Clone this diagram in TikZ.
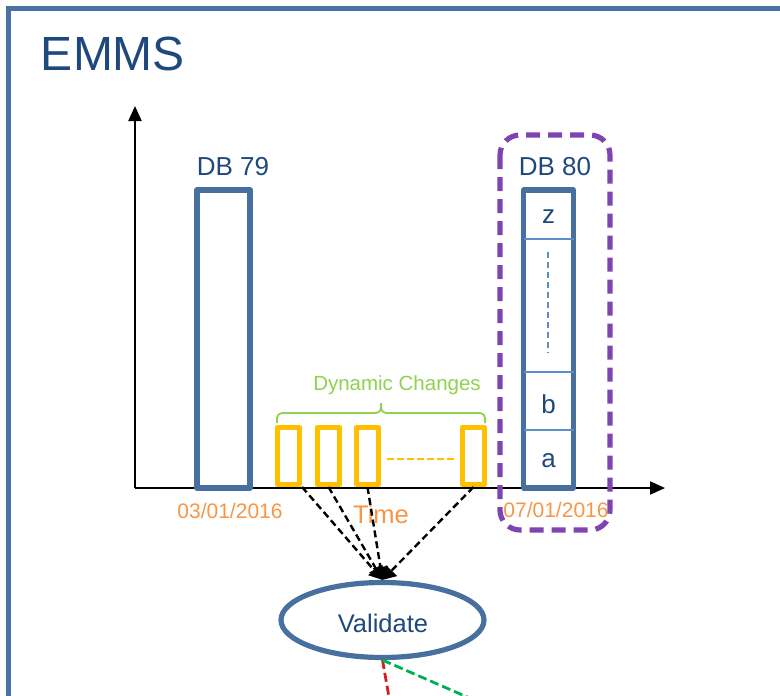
\documentclass[tikz,border=0pt]{standalone}
\usepackage{fontspec}
\setmainfont{Liberation Sans}
\usetikzlibrary{arrows.meta,shapes.geometric}
\definecolor{frameblue}{HTML}{4A72A0}
\definecolor{boxblue}{HTML}{48709E}
\definecolor{textblue}{HTML}{1F497D}
\definecolor{divblue}{HTML}{5B8FC9}
\definecolor{dateorange}{HTML}{F79646}
\definecolor{dyngreen}{HTML}{92D050}
\definecolor{chyellow}{HTML}{FFC000}
\definecolor{purp}{HTML}{7E44B0}
\definecolor{lgreen}{HTML}{00B050}
\definecolor{lred}{HTML}{D42020}
\tikzset{
  dbbox/.style={draw=boxblue,line width=5.2pt,line join=round},
  chbox/.style={draw=chyellow,line width=5.2pt,line join=round},
  lbl/.style={text=textblue,anchor=base,inner sep=0pt},
  datelbl/.style={text=dateorange,anchor=base,inner sep=0pt,font=\fontsize{21}{24}\selectfont},
  darr/.style={draw=black,line width=2.4pt,dash pattern=on 7pt off 4pt,-{Triangle[length=13pt,width=15pt]}},
  ax/.style={draw=black,line width=2.2pt,-{Triangle[length=15pt,width=13pt]}}
}
\begin{document}
\begin{tikzpicture}[x=1pt,y=-1pt]
\useasboundingbox (0,0) rectangle (780,696);
\clip (0,0) rectangle (780,696);
% frame
\draw[frameblue,line width=5.2pt] (8.5,800) -- (8.5,8.5) -- (900,8.5);
\node[lbl,text=textblue,font=\fontsize{48}{52}\selectfont] (title) at (113,70) {EMMS};
% axes
\coordinate (origin) at (135,488);
\coordinate (yend) at (135,106);
\coordinate (xend) at (665,488);
\draw[ax] (origin) -- (yend);
\draw[ax] (origin) -- (xend);
% DB 79
\draw[dbbox] (197,190) rectangle (250,488);
\node[lbl,font=\fontsize{26}{30}\selectfont] (db79) at (233,175) {DB 79};
% DB 80
\draw[purp,line width=5.2pt,dash pattern=on 14pt off 8pt,rounded corners=20pt] (500,135) rectangle (610,530);
\draw[dbbox] (523.5,190) rectangle (573.5,488);
\draw[divblue,line width=1.8pt] (523.5,239) -- (573.5,239) (523.5,372) -- (573.5,372) (523.5,430) -- (573.5,430);
\draw[divblue,line width=2.2pt,dash pattern=on 6pt off 4pt] (548,252) -- (548,353);
\node[lbl,font=\fontsize{26}{30}\selectfont] (db80) at (555,175) {DB 80};
\node[lbl,font=\fontsize{26}{30}\selectfont] (z) at (548.5,223) {z};
\node[lbl,font=\fontsize{26}{30}\selectfont] (b) at (548.5,413) {b};
\node[lbl,font=\fontsize{26}{30}\selectfont] (a) at (548.5,467) {a};
% changes
\node[chbox,minimum width=22pt,minimum height=57pt,inner sep=0pt,anchor=south] (c1) at (288.5,487) {};
\node[chbox,minimum width=22pt,minimum height=57pt,inner sep=0pt,anchor=south] (c2) at (328.5,487) {};
\node[chbox,minimum width=22pt,minimum height=57pt,inner sep=0pt,anchor=south] (c3) at (367.5,487) {};
\node[chbox,minimum width=22pt,minimum height=57pt,inner sep=0pt,anchor=south] (c4) at (473.5,487) {};
\draw[chyellow,line width=2.6pt,dash pattern=on 7pt off 3pt] (387,459) -- (455,459);
% brace
\draw[dyngreen,line width=1.8pt,rounded corners=5pt] (277,423) -- (277,413) -- (381,413) -- (381,403);
\draw[dyngreen,line width=1.8pt,rounded corners=5pt] (381,403) -- (381,413) -- (485,413) -- (485,423);
\node[lbl,text=dyngreen,font=\fontsize{20.5}{24}\selectfont] (dyn) at (397,390) {Dynamic Changes};
% dates
\node[datelbl] (d1) at (230,518) {03/01/2016};
\node[datelbl] (d2) at (556,517) {07/01/2016};
\node[lbl,text=dateorange,font=\fontsize{25.5}{28}\selectfont] (time) at (381,523) {Time};
% validate
\node[ellipse,draw=boxblue,line width=5.2pt,minimum width=203pt,minimum height=75pt,inner sep=0pt] (val) at (382.5,620) {};
\node[lbl,font=\fontsize{25.5}{28}\selectfont] (valtxt) at (383,632) {Validate};
% arrows
\draw[darr] (c1.south east) -- (val.north);
\draw[darr] (c2.south) -- (val.north);
\draw[darr] (c3.south) -- (val.north);
\draw[darr] (c4.south) -- (val.north);
% outgoing
\coordinate (rend) at (393,720);
\coordinate (gend) at (520,720);
\draw[lred,line width=2.8pt,dash pattern=on 9pt off 4pt] (val.south) -- (rend);
\draw[lgreen,line width=2.8pt,dash pattern=on 9pt off 4pt] (val.south) -- (gend);
\end{tikzpicture}
\end{document}
